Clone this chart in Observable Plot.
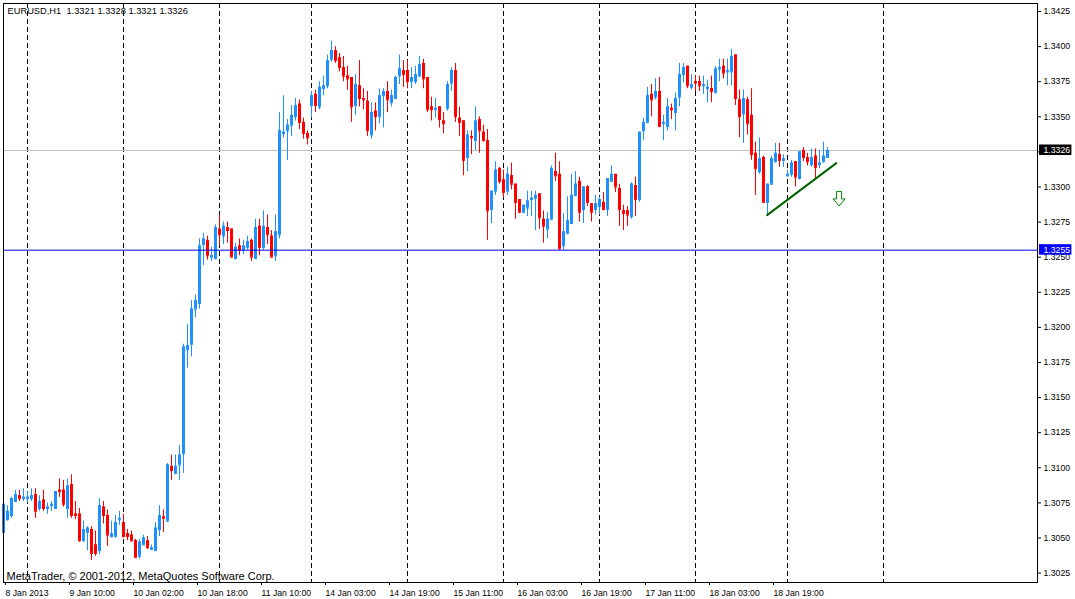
<!DOCTYPE html>
<html><head><meta charset="utf-8">
<script src="https://cdn.jsdelivr.net/npm/d3@7"></script>
<script src="https://cdn.jsdelivr.net/npm/@observablehq/plot@0.6"></script>
<style>html,body{margin:0;padding:0;background:#fff;}svg{display:block;}</style>
</head><body><div id="chart"></div>
<script>
const symbolTitle = "EURUSD,H1  1.3321 1.3328 1.3321 1.3326";
const credit = "MetaTrader, © 2001-2012, MetaQuotes Software Corp.";

const open = [
1.3054,1.3063,1.3066,1.3076,1.3080,1.3078,1.3078,1.3078,1.3081,1.3071,
1.3077,1.3071,1.3073,1.3071,1.3084,1.3084,1.3071,1.3088,1.3067,1.3067,
1.3048,1.3054,1.3056,1.3045,1.3041,1.3072,1.3066,1.3051,1.3051,1.3063,
1.3061,1.3053,1.3052,1.3048,1.3037,1.3045,1.3048,1.3042,1.3041,1.3056,
1.3065,1.3062,1.3101,1.3096,1.3102,1.3110,1.3184,1.3188,1.3213,1.3217,
1.3259,1.3262,1.3250,1.3249,1.3270,1.3265,1.3271,1.3270,1.3249,1.3258,
1.3255,1.3257,1.3262,1.3249,1.3272,1.3257,1.3271,1.3265,1.3251,1.3266,
1.3338,1.3340,1.3344,1.3350,1.3359,1.3346,1.3338,1.3358,1.3366,1.3357,
1.3370,1.3372,1.3391,1.3397,1.3392,1.3385,1.3379,1.3378,1.3358,1.3372,
1.3363,1.3361,1.3337,1.3354,1.3350,1.3365,1.3368,1.3360,1.3363,1.3379,
1.3383,1.3383,1.3375,1.3375,1.3379,1.3388,1.3378,1.3357,1.3355,1.3357,
1.3347,1.3356,1.3374,1.3383,1.3349,1.3347,1.3321,1.3336,1.3333,1.3348,
1.3339,1.3333,1.3284,1.3297,1.3313,1.3305,1.3297,1.3308,1.3302,1.3291,
1.3282,1.3285,1.3291,1.3292,1.3295,1.3277,1.3270,1.3277,1.3311,1.3309,
1.3258,1.3267,1.3274,1.3294,1.3304,1.3284,1.3300,1.3288,1.3284,1.3286,
1.3289,1.3284,1.3304,1.3309,1.3299,1.3283,1.3283,1.3279,1.3301,1.3291,
1.3340,1.3346,1.3366,1.3364,1.3368,1.3345,1.3343,1.3356,1.3353,1.3364,
1.3380,1.3386,1.3371,1.3375,1.3375,1.3372,1.3370,1.3370,1.3367,1.3384,
1.3386,1.3382,1.3382,1.3394,1.3362,1.3352,1.3362,1.3351,1.3324,1.3311,
1.3321,1.3289,1.3302,1.3318,1.3323,1.3319,1.3308,1.3309,1.3318,1.3306,
1.3326,1.3321,1.3316,1.3322,1.3316,1.3318,1.3321];

const high = [
1.3074,1.3073,1.3079,1.3084,1.3084,1.3085,1.3083,1.3085,1.3085,1.3080,
1.3084,1.3075,1.3076,1.3083,1.3092,1.3091,1.3092,1.3095,1.3076,1.3071,
1.3062,1.3058,1.3058,1.3055,1.3078,1.3076,1.3070,1.3062,1.3066,1.3069,
1.3067,1.3056,1.3055,1.3049,1.3049,1.3052,1.3051,1.3045,1.3061,1.3073,
1.3070,1.3103,1.3109,1.3109,1.3116,1.3188,1.3202,1.3219,1.3223,1.3263,
1.3267,1.3265,1.3257,1.3273,1.3280,1.3275,1.3275,1.3270,1.3260,1.3263,
1.3262,1.3265,1.3263,1.3277,1.3277,1.3283,1.3280,1.3269,1.3280,1.3353,
1.3365,1.3348,1.3358,1.3363,1.3362,1.3349,1.3340,1.3368,1.3369,1.3375,
1.3379,1.3394,1.3404,1.3400,1.3395,1.3393,1.3386,1.3378,1.3380,1.3390,
1.3370,1.3368,1.3360,1.3360,1.3370,1.3370,1.3375,1.3369,1.3379,1.3394,
1.3390,1.3390,1.3385,1.3386,1.3393,1.3391,1.3378,1.3364,1.3363,1.3357,
1.3353,1.3375,1.3385,1.3388,1.3357,1.3347,1.3340,1.3340,1.3357,1.3350,
1.3344,1.3341,1.3297,1.3318,1.3314,1.3312,1.3314,1.3317,1.3302,1.3291,
1.3287,1.3297,1.3297,1.3297,1.3295,1.3283,1.3282,1.3315,1.3324,1.3318,
1.3281,1.3293,1.3309,1.3311,1.3307,1.3300,1.3301,1.3288,1.3294,1.3293,
1.3296,1.3306,1.3315,1.3309,1.3302,1.3287,1.3286,1.3303,1.3307,1.3339,
1.3349,1.3371,1.3373,1.3377,1.3378,1.3351,1.3363,1.3359,1.3367,1.3388,
1.3388,1.3386,1.3380,1.3379,1.3379,1.3379,1.3376,1.3379,1.3386,1.3391,
1.3391,1.3391,1.3398,1.3394,1.3369,1.3369,1.3364,1.3370,1.3332,1.3335,
1.3322,1.3302,1.3322,1.3331,1.3331,1.3323,1.3312,1.3319,1.3318,1.3325,
1.3328,1.3324,1.3327,1.3327,1.3326,1.3332,1.3328];

const low = [
1.3054,1.3062,1.3064,1.3076,1.3076,1.3076,1.3075,1.3076,1.3064,1.3069,
1.3069,1.3067,1.3069,1.3071,1.3079,1.3072,1.3064,1.3064,1.3063,1.3047,
1.3047,1.3041,1.3034,1.3037,1.3038,1.3060,1.3044,1.3050,1.3050,1.3059,
1.3050,1.3048,1.3047,1.3036,1.3035,1.3045,1.3042,1.3041,1.3041,1.3051,
1.3054,1.3061,1.3091,1.3095,1.3091,1.3096,1.3171,1.3179,1.3207,1.3213,
1.3244,1.3248,1.3247,1.3248,1.3258,1.3259,1.3260,1.3250,1.3248,1.3251,
1.3252,1.3255,1.3247,1.3249,1.3251,1.3255,1.3259,1.3250,1.3247,1.3263,
1.3335,1.3319,1.3336,1.3347,1.3341,1.3334,1.3330,1.3349,1.3353,1.3355,
1.3365,1.3370,1.3389,1.3388,1.3382,1.3375,1.3369,1.3346,1.3351,1.3357,
1.3355,1.3336,1.3334,1.3340,1.3345,1.3342,1.3353,1.3357,1.3363,1.3373,
1.3371,1.3370,1.3370,1.3373,1.3378,1.3370,1.3353,1.3347,1.3349,1.3342,
1.3338,1.3354,1.3368,1.3346,1.3336,1.3308,1.3311,1.3323,1.3326,1.3324,
1.3332,1.3262,1.3274,1.3294,1.3302,1.3292,1.3294,1.3298,1.3277,1.3281,
1.3281,1.3279,1.3279,1.3269,1.3270,1.3260,1.3263,1.3276,1.3304,1.3255,
1.3255,1.3266,1.3274,1.3293,1.3275,1.3274,1.3286,1.3275,1.3280,1.3280,
1.3283,1.3279,1.3304,1.3296,1.3272,1.3269,1.3272,1.3277,1.3279,1.3289,
1.3333,1.3345,1.3350,1.3362,1.3343,1.3333,1.3340,1.3348,1.3340,1.3357,
1.3374,1.3370,1.3369,1.3368,1.3368,1.3366,1.3360,1.3360,1.3367,1.3375,
1.3377,1.3372,1.3372,1.3358,1.3335,1.3331,1.3337,1.3319,1.3294,1.3309,
1.3289,1.3280,1.3301,1.3317,1.3314,1.3314,1.3307,1.3307,1.3300,1.3305,
1.3318,1.3315,1.3314,1.3306,1.3313,1.3317,1.3321];

const close = [
1.3074,1.3069,1.3078,1.3081,1.3078,1.3079,1.3079,1.3080,1.3069,1.3076,
1.3071,1.3072,1.3074,1.3083,1.3083,1.3074,1.3087,1.3066,1.3066,1.3048,
1.3056,1.3057,1.3039,1.3039,1.3073,1.3066,1.3052,1.3053,1.3061,1.3064,
1.3051,1.3051,1.3048,1.3036,1.3047,1.3050,1.3043,1.3043,1.3057,1.3066,
1.3064,1.3102,1.3098,1.3101,1.3109,1.3186,1.3187,1.3213,1.3219,1.3258,
1.3263,1.3251,1.3251,1.3271,1.3266,1.3272,1.3269,1.3250,1.3257,1.3255,
1.3258,1.3261,1.3250,1.3271,1.3257,1.3272,1.3266,1.3250,1.3268,1.3340,
1.3339,1.3344,1.3351,1.3358,1.3346,1.3338,1.3335,1.3365,1.3358,1.3371,
1.3372,1.3390,1.3397,1.3390,1.3385,1.3379,1.3377,1.3357,1.3373,1.3363,
1.3362,1.3340,1.3353,1.3350,1.3365,1.3368,1.3362,1.3365,1.3378,1.3384,
1.3380,1.3375,1.3378,1.3380,1.3387,1.3377,1.3355,1.3355,1.3356,1.3348,
1.3345,1.3373,1.3383,1.3350,1.3346,1.3319,1.3337,1.3335,1.3347,1.3340,
1.3333,1.3283,1.3297,1.3312,1.3304,1.3296,1.3309,1.3302,1.3289,1.3282,
1.3287,1.3290,1.3292,1.3294,1.3278,1.3272,1.3277,1.3313,1.3308,1.3256,
1.3268,1.3276,1.3294,1.3302,1.3282,1.3300,1.3289,1.3282,1.3288,1.3291,
1.3284,1.3306,1.3309,1.3300,1.3284,1.3281,1.3280,1.3302,1.3291,1.3339,
1.3346,1.3365,1.3362,1.3368,1.3343,1.3346,1.3357,1.3355,1.3363,1.3380,
1.3385,1.3372,1.3373,1.3374,1.3372,1.3373,1.3371,1.3368,1.3384,1.3385,
1.3381,1.3383,1.3393,1.3363,1.3350,1.3363,1.3345,1.3323,1.3313,1.3320,
1.3289,1.3302,1.3320,1.3324,1.3319,1.3320,1.3309,1.3317,1.3307,1.3325,
1.3321,1.3318,1.3321,1.3314,1.3317,1.3322,1.3326];

const timeLabelBars = [0,16,32,48,64,80,96,112,128,144,160,176,192];
const timeLabels = ["8 Jan 2013","9 Jan 10:00","10 Jan 02:00","10 Jan 18:00","11 Jan 10:00",
  "14 Jan 03:00","14 Jan 19:00","15 Jan 11:00","16 Jan 03:00","16 Jan 19:00",
  "17 Jan 11:00","18 Jan 03:00","18 Jan 19:00"];
const daySeparatorBars = [6,30,54,77,101,125,149,173,196,220];
const priceTicks = [1.3025,1.3050,1.3075,1.3100,1.3125,1.3150,1.3175,1.3200,1.3225,
  1.3250,1.3275,1.3300,1.3325,1.3350,1.3375,1.3400,1.3425];
const bidPrice = 1.3326;
const levelPrice = 1.3255;
const trendBars = [190.9, 208.2];
const trendPrices = [1.3280, 1.3317];
const arrowBar = 208.9;
const arrowPrice = 1.32915;

const bull = "#1E90FF", bear = "#FF0000";
const bars = open.map((o, i) => ({i, o, h: high[i], l: low[i], c: close[i]}));
const col = d => d.c >= d.o ? bull : bear;
const trend = trendBars.map((b, j) => ({bar: b, price: trendPrices[j]}));
const labelOf = new Map(timeLabelBars.map((b, j) => [b, timeLabels[j]]));

const X0 = 0, X1 = 258.5;              // bar-index domain of the plot frame
const Y0 = 1.30183, Y1 = 1.34307;      // price domain of the plot frame
const pricePerPx = (Y1 - Y0) / 579;
const boxes = [
  {p: bidPrice, fill: "#000000"},
  {p: levelPrice, fill: "#0000FF"}
];

// hollow down arrow (MetaTrader "sell" arrow object)
const hollowDownArrow = {
  draw(ctx) {
    ctx.moveTo(-2.5, -7.5); ctx.lineTo(2.5, -7.5); ctx.lineTo(2.5, 0);
    ctx.lineTo(6, 0); ctx.lineTo(0, 7); ctx.lineTo(-6, 0); ctx.lineTo(-2.5, 0);
    ctx.closePath();
  }
};

const chart = Plot.plot({
  width: 1075, height: 599,
  marginLeft: 3, marginRight: 38, marginTop: 3, marginBottom: 17,
  x: {domain: [X0, X1]},
  y: {domain: [Y0, Y1]},
  style: {fontFamily: "Liberation Sans", fontSize: "8.7px", background: "white", color: "black"},
  marks: [
    Plot.ruleX(daySeparatorBars, {x: d => d, stroke: "black", strokeDasharray: "5,3"}),
    Plot.ruleY([bidPrice], {y: d => d, stroke: "#C0C0C0"}),
    Plot.ruleX(bars, {x: "i", y1: "l", y2: "h", stroke: col}),
    Plot.rect(bars, {x1: d => d.i - 0.25, x2: d => d.i + 0.5, y1: "o", y2: "c", fill: col}),
    Plot.ruleY(bars, {y: "c", x1: d => d.i - 0.25, x2: d => d.i + 0.5, stroke: col}),
    Plot.ruleY(bars, {y: "o", x1: d => d.i - 0.25, x2: d => d.i + 0.5, stroke: col}),
    Plot.ruleY([levelPrice], {y: d => d, stroke: "#0000FF"}),
    Plot.line(trend, {x: "bar", y: "price", stroke: "#006400", strokeWidth: 2}),
    Plot.dot([arrowBar], {x: d => d, y: () => arrowPrice, symbol: hollowDownArrow, r: 5,
      stroke: "#008000", fill: "white", strokeWidth: 1}),
    Plot.frame({stroke: "black"}),
    Plot.axisY({anchor: "right", ticks: priceTicks, tickFormat: d => d.toFixed(4),
      tickSize: 3, tickPadding: 3, label: null}),
    Plot.axisX({anchor: "bottom", ticks: timeLabelBars, tickFormat: d => labelOf.get(d),
      tickSize: 3, tickPadding: 4, textAnchor: "start", dx: 2, label: null}),
    Plot.rect(boxes, {x1: X1 + 0.5, x2: X1 + 8.6,
      y1: d => d.p - 5 * pricePerPx, y2: d => d.p + 5.5 * pricePerPx, fill: d => d.fill}),
    Plot.text(boxes, {y: "p", text: d => d.p.toFixed(4), frameAnchor: "right", dx: 6,
      textAnchor: "start", fill: "white"}),
    Plot.text([symbolTitle], {text: d => d, frameAnchor: "top-left", dx: 4, dy: 4,
      textAnchor: "start", lineAnchor: "top", fontSize: 9.3, fill: "black"}),
    Plot.text([credit], {text: d => d, frameAnchor: "bottom-left", dx: 3, dy: -3,
      textAnchor: "start", lineAnchor: "bottom", fontSize: 11, fill: "black"})
  ]
});
document.getElementById("chart").appendChild(chart);
</script>
</body></html>
